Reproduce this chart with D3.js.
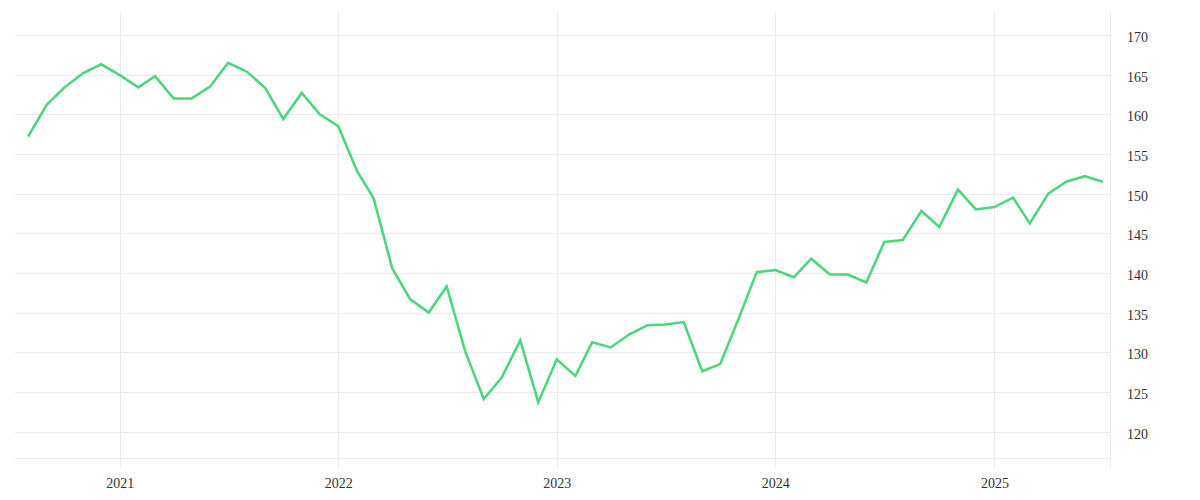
<!DOCTYPE html>
<html>
<head>
<meta charset="utf-8">
<script src="https://cdn.jsdelivr.net/npm/d3@7"></script>
<style>
  body { margin: 0; background: #fff; }
  text { font-family: "Liberation Serif", serif; font-size: 14px; fill: #333; }
</style>
</head>
<body>
<div id="chart"></div>
<script>
// monthly values, Aug 2020 .. Jul 2025
var startMonth = "2020-08";
var values = [
  157.2, 161.2, 163.4, 165.2, 166.3,
  164.95, 163.4, 164.8, 162.0, 162.0, 163.5, 166.5, 165.4, 163.3, 159.4, 162.7, 160.0,
  158.5, 152.9, 149.4, 140.6, 136.7, 135.0, 138.3, 130.1, 124.1, 126.8, 131.5, 123.7,
  129.1, 127.0, 131.25, 130.6, 132.2, 133.4, 133.5, 133.8, 127.6, 128.5, 134.3, 140.1,
  140.35, 139.45, 141.8, 139.8, 139.8, 138.8, 143.9, 144.15, 147.8, 145.8, 150.5, 148.0,
  148.3, 149.5, 146.25, 150.0, 151.5, 152.2, 151.5
];
var yTicks = [120, 125, 130, 135, 140, 145, 150, 155, 160, 165, 170];
var xTicks = ["2021-01-01", "2022-01-01", "2023-01-01", "2024-01-01", "2025-01-01"];

function init(){
    var w = 1200;
    var h = 500;
    var left = 15, right = 1110, top = 12, bottom = 468;

    var parseMonth = d3.timeParse("%Y-%m");
    var parseDay = d3.timeParse("%Y-%m-%d");
    var t0 = parseMonth(startMonth);

    var data = values.map(function(v, i){
        return { date: d3.timeMonth.offset(t0, i), value: v };
    });

    var x = d3.scaleTime()
              .domain([parseDay("2020-07-10"), parseDay("2025-07-13")])
              .range([left, right]);

    var y = d3.scaleLinear()
              .domain([115.4, 172.9])
              .range([bottom, top]);

    var svg = d3.select("#chart")
                .append("svg")
                .attr("width", w)
                .attr("height", h);

    // horizontal grid
    svg.append("g")
        .selectAll("line")
        .data(yTicks.concat([116.65]))
        .enter()
        .append("line")
        .attr("x1", left)
        .attr("x2", right)
        .attr("y1", function(d){ return Math.round(y(d)) + 0.5; })
        .attr("y2", function(d){ return Math.round(y(d)) + 0.5; })
        .attr("stroke", "#ebebeb")
        .attr("stroke-width", 1);

    // vertical grid
    var xDates = xTicks.map(parseDay);
    svg.append("g")
        .selectAll("line")
        .data(xDates)
        .enter()
        .append("line")
        .attr("x1", function(d){ return Math.round(x(d)) + 0.5; })
        .attr("x2", function(d){ return Math.round(x(d)) + 0.5; })
        .attr("y1", top)
        .attr("y2", bottom)
        .attr("stroke", "#ebebeb")
        .attr("stroke-width", 1);

    // right border
    svg.append("line")
        .attr("x1", right + 0.5)
        .attr("x2", right + 0.5)
        .attr("y1", top)
        .attr("y2", bottom)
        .attr("stroke", "#ebebeb");

    // y axis on right
    var yAxis = d3.axisRight(y)
                  .tickValues(yTicks)
                  .tickSize(0)
                  .tickPadding(17);
    var gy = svg.append("g")
        .attr("transform", "translate(" + right + ",2)")
        .call(yAxis);
    gy.select(".domain").remove();
    gy.selectAll("text").style("font-family", "Liberation Serif, serif").style("font-size", "14px").attr("fill", "#333");

    // x axis
    var xAxis = d3.axisBottom(x)
                  .tickValues(xDates)
                  .tickFormat(d3.timeFormat("%Y"))
                  .tickSize(0)
                  .tickPadding(10);
    var gx = svg.append("g")
        .attr("transform", "translate(0," + bottom + ")")
        .call(xAxis);
    gx.select(".domain").remove();
    gx.selectAll("text").style("font-family", "Liberation Serif, serif").style("font-size", "14px").attr("fill", "#333");

    var line = d3.line()
                 .x(function(d){ return x(d.date); })
                 .y(function(d){ return y(d.value); });

    svg.append("path")
        .datum(data)
        .attr("d", line)
        .attr("fill", "none")
        .attr("stroke", "#4ed67f")
        .attr("stroke-width", 2.6)
        .attr("stroke-linejoin", "miter");
}

window.onload = init;
</script>
</body>
</html>
